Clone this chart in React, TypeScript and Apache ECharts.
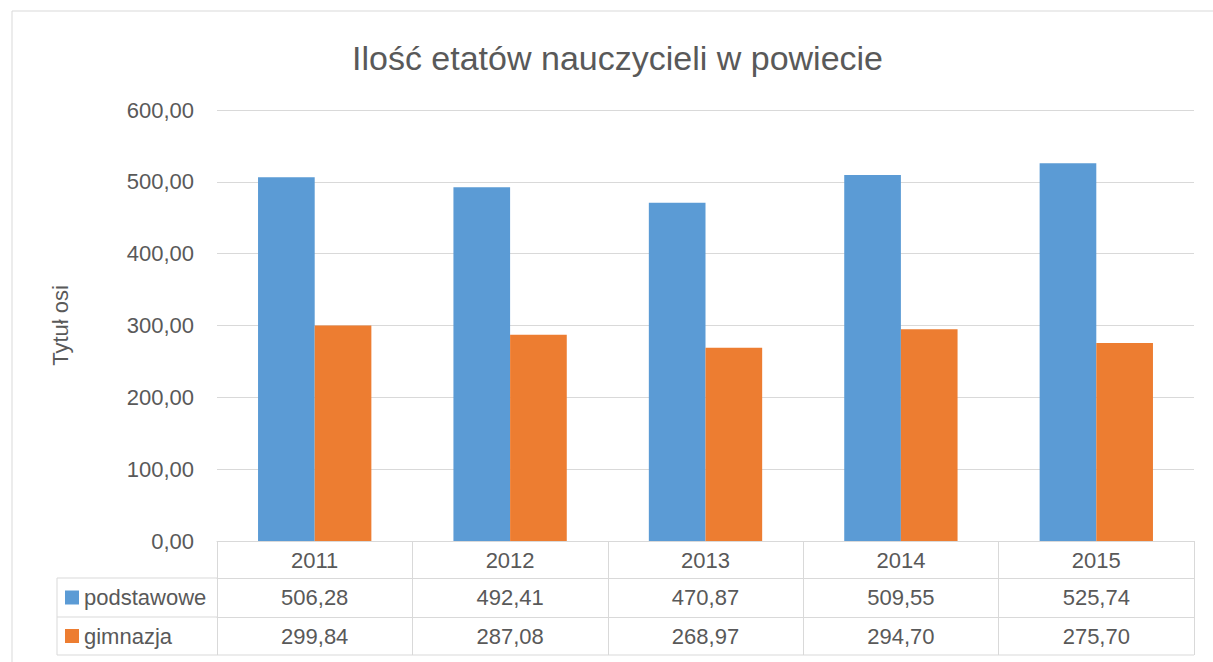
import React, { useEffect, useRef } from "react";
import * as echarts from "echarts";

const titleText = "Ilość etatów nauczycieli w powiecie";
const axisTitle = "Tytuł osi";
const years = ["2011", "2012", "2013", "2014", "2015"];
const seriesNames = ["podstawowe", "gimnazja"];
const podstawowe = [506.28, 492.41, 470.87, 509.55, 525.74];
const gimnazja = [299.84, 287.08, 268.97, 294.7, 275.7];
const colors = ["#5b9bd5", "#ed7d31"];

const fmt = (v: number) => v.toFixed(2).replace(".", ",");
const FONT = "Liberation Sans";
const TXT = "#595959";
const LINE = "#d9d9d9";

export default function App() {
  const ref = useRef<HTMLDivElement>(null);
  useEffect(() => {
    if (!ref.current) return;
    const chart = echarts.init(ref.current, undefined, { renderer: "svg" });
    const gridLeft = 217;
    const gridRight = 19;
    const axisY = 541;
    const rowH = [37, 39, 38];
    const row1 = axisY + rowH[0];
    const row2 = row1 + rowH[1];
    const row3 = row2 + rowH[2];
    const tableLeft = 57;

    const tableAxis = (data: string[], offset: number, len: number, show: boolean) => ({
      type: "category",
      data,
      position: "bottom",
      offset,
      gridIndex: 0,
      axisLine: { show, lineStyle: { color: LINE, width: 1 } },
      axisTick: { show: true, length: len, lineStyle: { color: LINE, width: 1 } },
      axisLabel: { show: true, color: TXT, fontSize: 22, fontFamily: FONT, margin: 8 },
      splitLine: { show: false },
    });

    const legendGraphics: any[] = [];
    [seriesNames[0], seriesNames[1]].forEach((name, i) => {
      const cy = i === 0 ? (row1 + row2) / 2 : (row2 + row3) / 2;
      legendGraphics.push({
        type: "rect",
        shape: { x: 65, y: cy - 7, width: 14, height: 14 },
        style: { fill: colors[i] },
      });
      legendGraphics.push({
        type: "text",
        x: 84,
        y: cy,
        style: { text: name, fill: TXT, font: `22px '${FONT}'`, textVerticalAlign: "middle", verticalAlign: "middle" },
      });
    });

    chart.setOption({
      animation: false,
      backgroundColor: "#ffffff",
      title: {
        text: titleText,
        left: 347,
        top: 36,
        textStyle: { color: TXT, fontSize: 34, fontWeight: "normal", fontFamily: FONT },
      },
      grid: { left: gridLeft, right: gridRight, top: 110, bottom: 662 - axisY },
      xAxis: [
        tableAxis(years, 0, rowH[0], true),
        tableAxis(podstawowe.map(fmt), rowH[0], rowH[1], true),
        tableAxis(gimnazja.map(fmt), rowH[0] + rowH[1], rowH[2], true),
      ],
      yAxis: {
        type: "value",
        min: 0,
        max: 600,
        interval: 100,
        axisLine: { show: false },
        axisTick: { show: false },
        splitLine: { lineStyle: { color: LINE, width: 1 } },
        axisLabel: { color: TXT, fontSize: 22, fontFamily: FONT, margin: 23, formatter: (v: number) => fmt(v) },
        name: axisTitle,
        nameLocation: "middle",
        nameRotate: 90,
        nameGap: 146,
        nameTextStyle: { color: TXT, fontSize: 22, fontFamily: FONT },
      },
      series: [
        {
          name: seriesNames[0],
          type: "bar",
          data: podstawowe,
          itemStyle: { color: colors[0] },
          barGap: "0%",
          barCategoryGap: "42%",
        },
        {
          name: seriesNames[1],
          type: "bar",
          data: gimnazja,
          itemStyle: { color: colors[1] },
          barGap: "0%",
          barCategoryGap: "42%",
        },
      ],
      graphic: [
        {
          type: "rect",
          shape: { x: 12, y: 11, width: 1300, height: 800 },
          style: { fill: "none", stroke: LINE, lineWidth: 1 },
          silent: true,
        },
        { type: "line", shape: { x1: tableLeft, y1: row1, x2: gridLeft, y2: row1 }, style: { stroke: LINE, lineWidth: 1 } },
        { type: "line", shape: { x1: tableLeft, y1: row2, x2: gridLeft, y2: row2 }, style: { stroke: LINE, lineWidth: 1 } },
        { type: "line", shape: { x1: tableLeft, y1: row3, x2: 1213 - gridRight, y2: row3 }, style: { stroke: LINE, lineWidth: 1 } },
        { type: "line", shape: { x1: tableLeft, y1: row1, x2: tableLeft, y2: row3 }, style: { stroke: LINE, lineWidth: 1 } },
        ...legendGraphics,
      ],
    });
    return () => chart.dispose();
  }, []);
  return (
    <div
      ref={ref}
      style={{ position: "absolute", left: 0, top: 0, width: 1213, height: 662, background: "#fff" }}
    />
  );
}
